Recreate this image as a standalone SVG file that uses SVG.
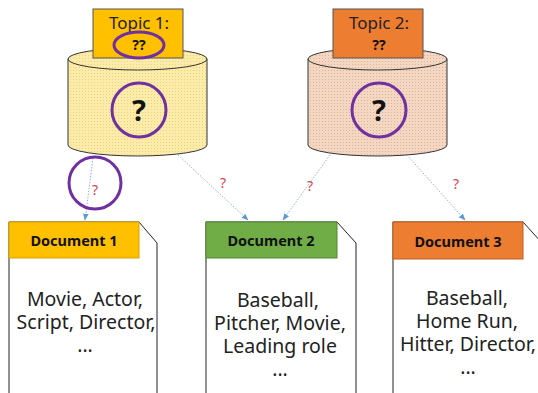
<svg xmlns="http://www.w3.org/2000/svg" width="538" height="393" viewBox="0 0 538 393">
  <defs>
    <pattern id="dotsYellow" width="3" height="3" patternUnits="userSpaceOnUse">
      <rect width="3" height="3" fill="#fcecac"/>
      <rect x="1" y="1" width="1" height="1" fill="#efd374"/>
    </pattern>
    <pattern id="dotsTan" width="3" height="3" patternUnits="userSpaceOnUse">
      <rect width="3" height="3" fill="#f3d7c3"/>
      <rect x="1" y="1" width="1" height="1" fill="#ddb295"/>
    </pattern>
    <marker id="arrow" viewBox="0 0 10 10" refX="9" refY="5" markerWidth="7" markerHeight="7" orient="auto" markerUnits="userSpaceOnUse">
      <path d="M0,1 L10,5 L0,9 z" fill="#5b9bd5"/>
    </marker>
    <style>
      .cyl { stroke: #333; stroke-width: 1; }
      .topic { stroke: #555; stroke-width: 1; }
      .topicText { font-family: "Noto Sans", "Open Sans", sans-serif; font-size: 17px; fill: #222; text-anchor: middle; }
      .qq { font-family: "Noto Sans", "Open Sans", sans-serif; font-size: 14px; font-weight: bold; fill: #111; text-anchor: middle; }
      .bigq { font-family: "Noto Sans", "Open Sans", sans-serif; font-size: 29px; font-weight: bold; fill: #111; text-anchor: middle; }
      .mark { fill: none; stroke: #7030a0; stroke-width: 3; }
      .link { stroke: #8fb4dc; stroke-width: 1; stroke-dasharray: 1.5 1.5; fill: none; marker-end: url(#arrow); }
      .redq { font-family: "Noto Sans", "Open Sans", sans-serif; font-size: 14px; fill: #d9414b; text-anchor: middle; }
      .doc { fill: #fff; stroke: #222; stroke-width: 1; }
      .head { stroke-width: 1; }
      .headText { font-family: "Noto Sans", "Open Sans", sans-serif; font-size: 14.5px; font-weight: bold; fill: #111; text-anchor: middle; }
      .body { font-family: "Noto Sans", "Open Sans", sans-serif; font-size: 19.5px; fill: #222; text-anchor: middle; }
    </style>
  </defs>

  <!-- Topic 1 -->
  <g id="topic1">
    <path class="cyl" fill="url(#dotsYellow)" d="M68,59 L68,145 A69.5,11 0 0 0 207,145 L207,59 A69.5,11 0 0 0 68,59 z"/>
    <path class="cyl" fill="none" d="M68,59 A69.5,11 0 0 0 207,59"/>
    <rect class="topic" x="93" y="9" width="90" height="49" fill="#ffc000"/>
    <text class="topicText" x="139" y="29">Topic 1:</text>
    <text class="qq" x="139" y="50">??</text>
    <ellipse class="mark" cx="139" cy="45" rx="25" ry="13"/>
    <circle class="mark" cx="139" cy="110" r="27"/>
    <text class="bigq" x="139" y="121">?</text>
  </g>

  <!-- Topic 2 -->
  <g id="topic2">
    <path class="cyl" fill="url(#dotsTan)" d="M308,59 L308,145 A69.5,11 0 0 0 447,145 L447,59 A69.5,11 0 0 0 308,59 z"/>
    <path class="cyl" fill="none" d="M308,59 A69.5,11 0 0 0 447,59"/>
    <rect class="topic" x="333" y="9" width="90" height="49" fill="#ed7d31"/>
    <text class="topicText" x="379" y="29">Topic 2:</text>
    <text class="qq" x="379" y="50">??</text>
    <circle class="mark" cx="379" cy="110" r="27"/>
    <text class="bigq" x="379" y="121">?</text>
  </g>

  <!-- Connectors -->
  <g id="connectors">
    <line class="link" x1="93" y1="158" x2="85" y2="220"/>
    <line class="link" x1="178" y1="155" x2="248" y2="220"/>
    <line class="link" x1="330" y1="155" x2="283" y2="220"/>
    <line class="link" x1="407" y1="155" x2="465" y2="220"/>
    <text class="redq" x="95" y="195">?</text>
    <text class="redq" x="223" y="188">?</text>
    <text class="redq" x="310" y="191">?</text>
    <text class="redq" x="456" y="189">?</text>
    <circle class="mark" cx="95" cy="183" r="26"/>
  </g>

  <!-- Document 1 -->
  <g id="doc1">
    <path class="doc" d="M9,400 L9,222 L139,222 L157,243 L157,400"/>
    <rect class="head" x="9" y="222" width="130" height="36" fill="#ffc000" stroke="#d9a300"/>
    <text class="headText" x="74" y="246">Document 1</text>
    <text class="body"><tspan x="85" y="306">Movie, Actor,</tspan><tspan x="86" y="329">Script, Director,</tspan><tspan x="85" y="352">...</tspan></text>
  </g>

  <!-- Document 2 -->
  <g id="doc2">
    <path class="doc" d="M206,400 L206,222 L337,222 L356,243 L356,400"/>
    <rect class="head" x="206" y="222" width="131" height="36" fill="#70ad47" stroke="#548a33"/>
    <text class="headText" x="271" y="246">Document 2</text>
    <text class="body"><tspan x="278" y="307">Baseball,</tspan><tspan x="280" y="330">Pitcher, Movie,</tspan><tspan x="280" y="353">Leading role</tspan><tspan x="280" y="376">...</tspan></text>
  </g>

  <!-- Document 3 -->
  <g id="doc3">
    <path class="doc" d="M393,400 L393,222 L523,222 L542,243 L542,400"/>
    <rect class="head" x="393" y="222" width="130" height="37" fill="#ed7d31" stroke="#c0601f"/>
    <text class="headText" x="458" y="247">Document 3</text>
    <text class="body"><tspan x="467" y="305">Baseball,</tspan><tspan x="467" y="328">Home Run,</tspan><tspan x="468" y="351">Hitter, Director,</tspan><tspan x="468" y="374">...</tspan></text>
  </g>
</svg>
